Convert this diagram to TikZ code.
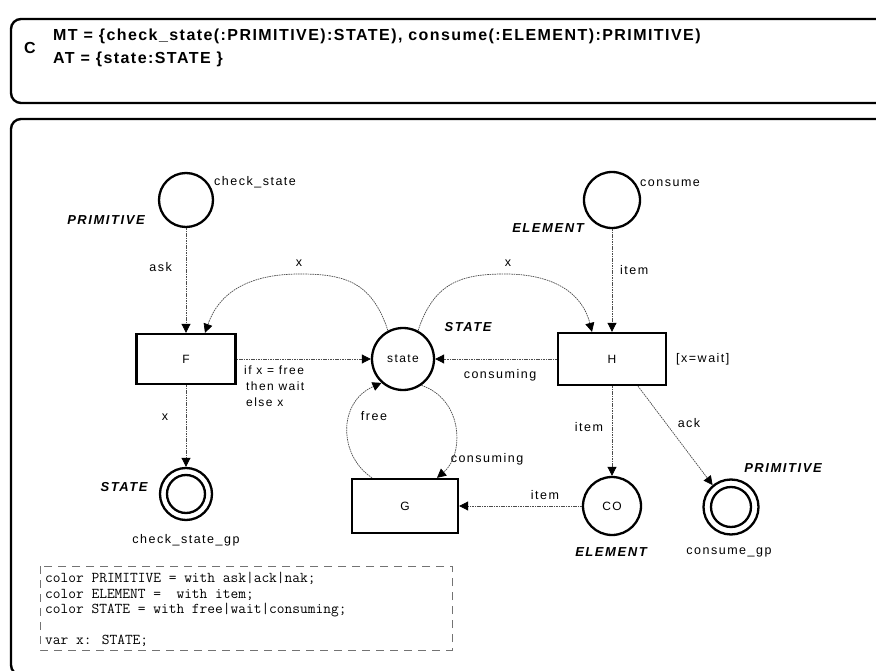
\documentclass[tikz,border=0pt]{standalone}
\usepackage{fontspec}
\setmainfont{Liberation Sans}
\newfontfamily\labf[LetterSpace=12]{Liberation Sans}
\newfontfamily\hdrf[LetterSpace=9]{Liberation Sans}
\usetikzlibrary{arrows.meta,calc}
\begin{document}
\begin{tikzpicture}[x=1pt,y=-1pt,
  frame/.style={draw=black, line width=2.4pt, rounded corners=10pt},
  place/.style={circle, draw=black, line width=2.3pt, minimum size=#1, inner sep=0pt, font=\labf\fontsize{12}{14}\selectfont},
  trans/.style={rectangle, draw=black, line width=2.3pt, inner sep=0pt, font=\labf\fontsize{12}{14}\selectfont},
  lab/.style={inner sep=0pt, font=\labf\fontsize{12.5}{14}\selectfont},
  typ/.style={inner sep=0pt, font=\labf\bfseries\itshape\fontsize{13}{15}\selectfont},
  hdr/.style={inner sep=0pt, font=\hdrf\bfseries\fontsize{16}{19}\selectfont},
  arc/.style={draw=black!70, line width=0.7pt, dash pattern=on 1.6pt off 0.8pt,
              -{Triangle[length=9pt,width=9pt,color=black]}},
  codebox/.style={draw=black!55, line width=0.8pt, dash pattern=on 8pt off 6pt},
  code/.style={inner sep=0pt, align=left, font=\ttfamily\fontsize{15}{15.5}\selectfont}
]
\useasboundingbox (0,0) rectangle (876,671);
\fill[white] (0,0) rectangle (876,671);

% header
\draw[frame] (11,19) rectangle (900,103);
\node[inner sep=0pt, font=\bfseries\fontsize{16}{18}\selectfont] (cl) at (30,48) {C};
\node[hdr, anchor=west] (mt) at (53,36) {MT = \{check\_state(:PRIMITIVE):STATE), consume(:ELEMENT):PRIMITIVE)};
\node[hdr, anchor=west] (at) at (53,59) {AT = \{state:STATE \}};

% body frame
\draw[frame] (11,119) rectangle (900,675);

% places
\node[place=54pt] (cs) at (186,200) {};
\node[lab, anchor=west] (csl) at (214,182) {check\_state};
\node[typ] (prim1) at (106,220) {PRIMITIVE};

\node[place=56pt] (con) at (612,200) {};
\node[lab, anchor=west] (conl) at (640,183) {consume};
\node[typ] (el1) at (548,228) {ELEMENT};

\node[place=62pt] (st) at (403,359) {state};
\node[typ] (stl) at (468,327) {STATE};

\node[place=58pt] (co) at (612,506) {CO};
\node[typ] (el2) at (611,552) {ELEMENT};

\node[place=52pt] (csgp) at (186,494) {};
\node[place=38pt] (csgpi) at (186,494) {};
\node[typ] (stl2) at (124,487) {STATE};
\node[lab] (csgpl) at (186,540) {check\_state\_gp};

\node[place=55pt] (cgp) at (731,507) {};
\node[place=40pt] (cgpi) at (731,507) {};
\node[typ] (prim2) at (783,468) {PRIMITIVE};
\node[lab] (cgpl) at (729,552) {consume\_gp};

% transitions
\node[trans, minimum width=99pt, minimum height=50pt] (F) at (186,359) {F};
\node[trans, minimum width=108pt, minimum height=52pt] (H) at (612,359) {H};
\node[lab, anchor=west] (guard) at (676,359) {[x=wait]};
\node[trans, minimum width=106pt, minimum height=54pt] (G) at (405,506) {G};

% helper coordinates on borders
\coordinate (Fa) at ($(F.north)+(19,0)$);
\coordinate (Ha) at ($(H.north)+(-20,0)$);
\coordinate (Hb) at ($(H.south)+(26,0)$);
\coordinate (Gl) at ($(G.north)+(-33,0)$);
\coordinate (Gr) at ($(G.north)+(32,0)$);

% arcs
\draw[arc] (cs) -- (F);
\draw[arc] (con) -- (H);
\draw[arc] (F) -- (st);
\draw[arc] (H) -- (st);
\draw[arc] (F) -- (csgp);
\draw[arc] (H) -- (co);
\draw[arc] (co) -- (G);
\draw[arc] (Hb) -- (cgp.130);
\draw[arc] (st.118) .. controls (372,282) and (345,274) .. (300,274) .. controls (252,274) and (220,290) .. (Fa);
\draw[arc] (st.62) .. controls (434,282) and (462,274) .. (505,274) .. controls (552,274) and (582,292) .. (Ha);
\draw[arc] (Gl) .. controls (338,455) and (338,402) .. (st.228);
\draw[arc] (st.305) .. controls (464,400) and (464,455) .. (Gr);

% arc labels
\node[lab, anchor=east] (lask) at (172,267) {ask};
\node[lab] (lx1) at (299,263) {x};
\node[lab] (lx2) at (508,263) {x};
\node[lab] (lx3) at (165,417) {x};
\node[lab, anchor=west] (litem1) at (620,270) {item};
\node[lab, anchor=north west, align=left, font=\labf\fontsize{12}{16}\selectfont] (lif) at (244,366) {if x = free\\ \,then wait\\ \,else x};
\node[lab] (lcons1) at (500,375) {consuming};
\node[lab] (lfree) at (374,416) {free};
\node[lab] (lcons2) at (487,459) {consuming};
\node[lab] (litem2) at (545,495) {item};
\node[lab] (litem3) at (589,427) {item};
\node[lab] (lack) at (689,423) {ack};

% declarations
\draw[codebox] (40,566) rectangle (452,650);
\node[code, anchor=north west] (decl) at (45,572) {color PRIMITIVE = with ask|ack|nak;\\color ELEMENT =\ \ with item;\\color STATE = with free|wait|consuming;\\[15.5pt]var x: STATE;};
\end{tikzpicture}
\end{document}
